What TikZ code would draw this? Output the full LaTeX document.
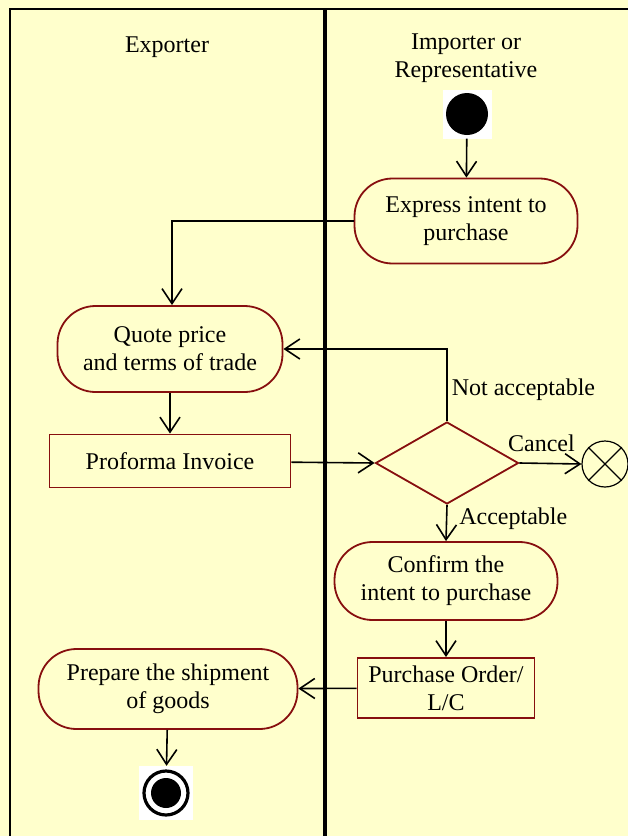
\documentclass[tikz,border=0pt]{standalone}
\usepackage{fontspec}
\setmainfont{Liberation Serif}
\usetikzlibrary{shapes.geometric,arrows.meta}
\definecolor{laneyellow}{HTML}{FFFFCC}
\definecolor{actred}{HTML}{870F0F}
\begin{document}
\begin{tikzpicture}[
    x=1pt, y=-1pt,
    txt/.style={font=\fontsize{24}{28}\selectfont, align=center, inner sep=2pt},
    activity/.style={txt, draw=actred, line width=1.8pt, fill=laneyellow, rounded corners=38pt},
    docbox/.style={txt, draw=actred, line width=1.8pt, fill=laneyellow, rectangle},
    decision/.style={diamond, draw=actred, line width=1.8pt, fill=laneyellow, inner sep=0pt},
    flow/.style={-{Straight Barb[length=15pt,width=20pt]}, line width=1.6pt},
    lbl/.style={txt, inner sep=1pt}
]
    % Swimlanes
    \useasboundingbox (0,0) rectangle (628,836);
    \fill[laneyellow] (0,0) rectangle (628,836);
    \draw[line width=2pt] (10,836) -- (10,9) -- (628,9);
    \draw[line width=3.5pt] (325,9) -- (325,836);
    \node[txt] (exporter) at (167,47) {Exporter};
    \node[txt] (importer) at (466,58) {Importer or\\Representative};

    % Start and end
    \node[rectangle, fill=white, minimum size=49pt, inner sep=0pt,
          path picture={\fill[black] (path picture bounding box.center) circle (21pt);}] (start) at (467,114) {};
    \node[rectangle, fill=white, minimum size=54pt, inner sep=0pt,
          path picture={\draw[line width=3.2pt] (path picture bounding box.center) circle (22pt);
                        \fill[black] (path picture bounding box.center) circle (15pt);}] (finish) at (166,793) {};

    % Activities
    \node[activity, minimum width=223pt, minimum height=85pt] (express) at (466,221) {Express intent to\\purchase};
    \node[activity, minimum width=225pt, minimum height=86pt] (quote) at (170,349) {Quote price\\and terms of trade};
    \node[docbox, minimum width=241pt, minimum height=53pt] (proforma) at (170,461) {Proforma Invoice};
    \node[decision, minimum width=143pt, minimum height=82pt] (check) at (447,463) {};
    \node[circle, draw, line width=1.2pt, fill=laneyellow, minimum size=46pt] (cancel) at (605,464) {};
    \draw[line width=1.2pt] (cancel.north east) -- (cancel.south west);
    \draw[line width=1.2pt] (cancel.north west) -- (cancel.south east);
    \node[activity, minimum width=223pt, minimum height=78pt] (confirm) at (446,581) {Confirm the\\intent to purchase};
    \node[docbox, minimum width=177pt, minimum height=60pt] (order) at (446,688) {Purchase Order/\\L/C};
    \node[activity, minimum width=259pt, minimum height=80pt] (prepare) at (168,689) {Prepare the shipment\\of goods};

    % Flows
    \draw[flow] (start) -- (express);
    \draw[flow] (express.west) -| ([xshift=2pt]quote.north);
    \draw[flow] (quote) -- (proforma);
    \draw[flow] (proforma) -- (check.west);
    \draw[flow] (check.north) |- node[lbl, pos=0.22, right, xshift=3pt] {Not acceptable} (quote.east);
    \draw[flow] (check.east) -- node[lbl, above, xshift=-9pt, yshift=10pt] {Cancel} (cancel.west);
    \draw[flow] (check.south) -- node[lbl, right, xshift=11pt, yshift=4pt] {Acceptable} (confirm.north);
    \draw[flow] (confirm) -- (order);
    \draw[flow] (order) -- (prepare);
    \draw[flow] (prepare) -- (finish);
\end{tikzpicture}
\end{document}
